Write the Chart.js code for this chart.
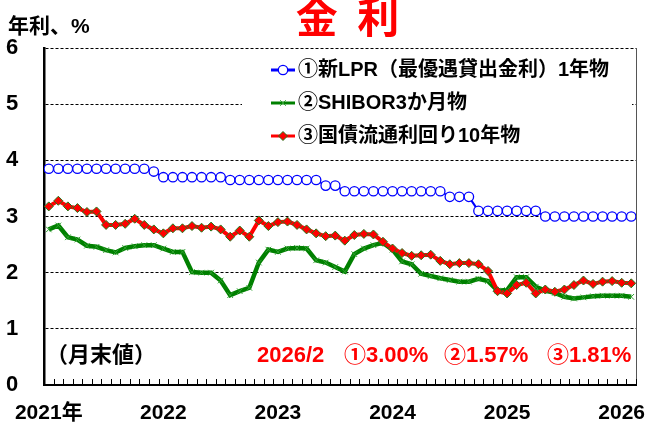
<!DOCTYPE html>
<html lang="ja">
<head>
    <meta charset="UTF-8">
    <title>金利</title>
    <script src="https://cdn.jsdelivr.net/npm/chart.js"></script>
    <style>
        html, body { margin: 0; padding: 0; background: #fff; }
        #wrap { width: 646px; height: 428px; }
    </style>
</head>
<body>
<div id="wrap"><canvas id="rateChart" width="646" height="428"></canvas></div>
<script>
    // 月末値 2021/1 - 2026/2
    const startYear = 2021;
    const monthCount = 62;
    const yearLabels = ['2021年', '2022', '2023', '2024', '2025', '2026'];

    const lprValues = [
        3.85, 3.85, 3.85, 3.85, 3.85, 3.85, 3.85, 3.85, 3.85, 3.85, 3.85, 3.80,
        3.70, 3.70, 3.70, 3.70, 3.70, 3.70, 3.70, 3.65, 3.65, 3.65, 3.65, 3.65,
        3.65, 3.65, 3.65, 3.65, 3.65, 3.55, 3.55, 3.45, 3.45, 3.45, 3.45, 3.45,
        3.45, 3.45, 3.45, 3.45, 3.45, 3.45, 3.35, 3.35, 3.35, 3.10, 3.10, 3.10,
        3.10, 3.10, 3.10, 3.10, 3.00, 3.00, 3.00, 3.00, 3.00, 3.00, 3.00, 3.00,
        3.00, 3.00
    ];
    const shiborValues = [
        2.77, 2.84, 2.63, 2.59, 2.48, 2.46, 2.40, 2.36, 2.44, 2.47, 2.49, 2.49,
        2.43, 2.37, 2.37, 2.01, 2.00, 2.00, 1.86, 1.60, 1.67, 1.73, 2.18, 2.41,
        2.37, 2.43, 2.44, 2.43, 2.22, 2.18, 2.10, 2.02, 2.33, 2.43, 2.49, 2.53,
        2.41, 2.20, 2.15, 1.98, 1.94, 1.90, 1.87, 1.84, 1.84, 1.89, 1.85, 1.68,
        1.69, 1.92, 1.92, 1.75, 1.68, 1.64, 1.57, 1.54, 1.56, 1.58, 1.59, 1.59,
        1.59, 1.57
    ];
    const bondValues = [
        3.18, 3.28, 3.18, 3.15, 3.08, 3.09, 2.85, 2.85, 2.87, 2.96, 2.85, 2.77,
        2.70, 2.79, 2.79, 2.83, 2.80, 2.82, 2.77, 2.64, 2.75, 2.64, 2.93, 2.83,
        2.90, 2.91, 2.85, 2.77, 2.70, 2.65, 2.66, 2.57, 2.67, 2.69, 2.68, 2.55,
        2.43, 2.35, 2.30, 2.31, 2.32, 2.21, 2.15, 2.17, 2.17, 2.15, 2.03, 1.67,
        1.63, 1.78, 1.82, 1.63, 1.70, 1.66, 1.70, 1.78, 1.86, 1.80, 1.84, 1.85,
        1.82, 1.81
    ];
    const seriesNames = ['①新LPR（最優遇貸出金利）1年物', '②SHIBOR3か月物', '③国債流通利回り10年物'];
    const yTicks = [0, 1, 2, 3, 4, 5, 6];

    const monthLabels = [];
    for (let i = 0; i < monthCount; i++) {
        monthLabels.push((startYear + Math.floor(i / 12)) + '/' + (i % 12 + 1));
    }
    const yearStarts = yearLabels.map((_, k) => k * 12);

    const jpFont = "'Liberation Sans', 'Noto Sans CJK JP', sans-serif";

    function toPoints(values) {
        return values.map((v, i) => ({ x: i, y: v }));
    }

    // simple markers for the legend
    function drawMarker(ctx, style, x, y, r, fill, stroke, lw) {
        ctx.save();
        ctx.lineWidth = lw;
        ctx.strokeStyle = stroke;
        ctx.fillStyle = fill;
        ctx.beginPath();
        if (style === 'circle') {
            ctx.arc(x, y, r, 0, Math.PI * 2);
            ctx.fill();
            ctx.stroke();
        } else if (style === 'rectRot') {
            ctx.moveTo(x, y - r); ctx.lineTo(x + r, y); ctx.lineTo(x, y + r); ctx.lineTo(x - r, y);
            ctx.closePath();
            ctx.fill();
            ctx.stroke();
        } else {
            const d = r * 0.7;
            ctx.moveTo(x - d, y - d); ctx.lineTo(x + d, y + d);
            ctx.moveTo(x + d, y - d); ctx.lineTo(x - d, y + d);
            ctx.stroke();
        }
        ctx.restore();
    }

    const decorPlugin = {
        id: 'decor',
        beforeDatasetsDraw(chart) {
            const ctx = chart.ctx;
            const area = chart.chartArea;
            const xs = chart.scales.x;
            ctx.save();
            // right border
            ctx.strokeStyle = '#555';
            ctx.lineWidth = 1;
            ctx.beginPath();
            ctx.moveTo(area.right + 0.5, area.top);
            ctx.lineTo(area.right + 0.5, area.bottom);
            ctx.stroke();
            // monthly tick marks on x axis (between categories)
            ctx.strokeStyle = '#000';
            ctx.beginPath();
            for (let k = 0; k <= monthCount; k++) {
                const px = Math.round(xs.getPixelForValue(k - 0.5)) + 0.5;
                ctx.moveTo(px, area.bottom);
                ctx.lineTo(px, area.bottom - 6);
            }
            ctx.stroke();
            // legend box
            ctx.fillStyle = '#fff';
            ctx.fillRect(242, 55, 390, 97);
            ctx.restore();
        },
        afterDraw(chart) {
            const ctx = chart.ctx;
            ctx.save();
            // title
            ctx.fillStyle = '#FF0000';
            ctx.font = "bold 42px 'Noto Sans CJK JP', sans-serif";
            ctx.textAlign = 'center';
            ctx.textBaseline = 'alphabetic';
            ctx.letterSpacing = '5px';
            ctx.fillText('金 利', 350, 33);
            ctx.letterSpacing = '0px';
            // unit
            ctx.fillStyle = '#000';
            ctx.textAlign = 'left';
            ctx.font = 'bold 21px ' + jpFont;
            ctx.fillText('年利、%', 8, 33);

            // legend
            ctx.textBaseline = 'middle';
            ctx.font = 'bold 20px ' + jpFont;
            const rowY = [70, 103, 136];
            chart.data.datasets.forEach((ds, i) => {
                const y = rowY[i];
                ctx.strokeStyle = ds.borderColor;
                ctx.lineWidth = 3;
                ctx.beginPath();
                ctx.moveTo(271, y);
                ctx.lineTo(295, y);
                ctx.stroke();
                drawMarker(ctx, ds.pointStyle, 283, y, ds.pointRadius, ds.pointBackgroundColor, ds.pointBorderColor, ds.pointBorderWidth);
                ctx.fillStyle = '#000';
                ctx.fillText(ds.label, 298, y);
            });

            // notes
            const ny = 356;
            ctx.font = 'bold 22px ' + jpFont;
            ctx.fillText('（月末値）', 46, ny);
            const last = monthCount - 1;
            const lastYear = startYear + Math.floor(last / 12);
            const lastMonth = last % 12 + 1;
            const notes = [
                [lastYear + '/' + lastMonth, 257],
                ['①' + lprValues[last].toFixed(2) + '%', 344],
                ['②' + shiborValues[last].toFixed(2) + '%', 444],
                ['③' + bondValues[last].toFixed(2) + '%', 547]
            ];
            ctx.fillStyle = '#FF0000';
            ctx.font = 'bold 22px ' + jpFont;
            notes.forEach(n => ctx.fillText(n[0], n[1], ny));
            ctx.restore();
        }
    };

    const config = {
        type: 'line',
        data: {
            labels: monthLabels,
            datasets: [{
                label: seriesNames[0],
                data: toPoints(lprValues),
                borderColor: '#0000FF',
                borderWidth: 2,
                pointStyle: 'circle',
                pointRadius: 4.7,
                pointBackgroundColor: '#FFFFFF',
                pointBorderColor: '#0000FF',
                pointBorderWidth: 1.3,
                order: 2
            }, {
                label: seriesNames[1],
                data: toPoints(shiborValues),
                borderColor: '#008000',
                borderWidth: 4.5,
                pointStyle: 'crossRot',
                pointRadius: 4,
                pointBackgroundColor: '#2f9f2f',
                pointBorderColor: '#2f9f2f',
                pointBorderWidth: 1,
                order: 1
            }, {
                label: seriesNames[2],
                data: toPoints(bondValues),
                borderColor: '#FF0000',
                borderWidth: 4,
                pointStyle: 'rectRot',
                pointRadius: 4.5,
                pointBackgroundColor: '#FF0000',
                pointBorderColor: '#1d7d1d',
                pointBorderWidth: 1,
                order: 0
            }]
        },
        options: {
            responsive: false,
            animation: false,
            devicePixelRatio: 1,
            layout: { padding: { left: 6, right: 10, top: 48, bottom: 0 } },
            plugins: {
                legend: { display: false },
                tooltip: { enabled: false }
            },
            elements: { line: { tension: 0 } },
            scales: {
                x: {
                    type: 'linear',
                    min: -0.5,
                    max: monthCount - 0.5,
                    afterBuildTicks: (s) => { s.ticks = yearStarts.map(v => ({ value: v })); },
                    afterFit: (s) => { s.height = 43; s.paddingLeft = 0; s.paddingRight = 0; },
                    grid: { display: false, drawTicks: false },
                    border: { display: true, color: '#000', width: 2 },
                    ticks: {
                        autoSkip: false,
                        maxRotation: 0,
                        padding: 16,
                        color: '#000',
                        font: { family: jpFont, size: 21, weight: 'bold' },
                        callback: (v) => yearLabels[yearStarts.indexOf(v)] || ''
                    }
                },
                y: {
                    min: 0,
                    max: 6,
                    afterBuildTicks: (s) => { s.ticks = yTicks.map(v => ({ value: v })); },
                    afterFit: (s) => { s.width = 38; s.paddingTop = 0; s.paddingBottom = 0; },
                    grid: { color: '#000', lineWidth: 1, drawTicks: false },
                    border: { display: true, color: '#000', width: 2.5, dash: [3, 2] },
                    ticks: {
                        crossAlign: 'far',
                        padding: 0,
                        color: '#000',
                        font: { family: jpFont, size: 22, weight: 'bold' }
                    }
                }
            }
        },
        plugins: [decorPlugin]
    };

    window.onload = function () {
        const ctx = document.getElementById('rateChart').getContext('2d');
        new Chart(ctx, config);
    };
</script>
</body>
</html>
